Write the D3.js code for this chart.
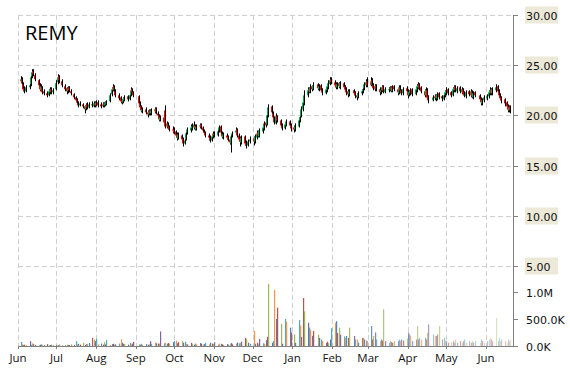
<!DOCTYPE html>
<html><head><meta charset="utf-8">
<script src="https://cdn.jsdelivr.net/npm/d3@7"></script>
<style>body{margin:0;background:#fff}svg{display:block}</style>
</head><body>
<svg id="c" width="570" height="370"></svg>
<script>
const title = "REMY";
const firstDay = "2013-06-03", lastDay = "2014-06-20";
const holidays = ["2013-07-04","2013-09-02","2013-11-28","2013-12-25","2014-01-01","2014-01-20","2014-02-17","2014-04-18","2014-05-26"];
const priceTicks = [5, 10, 15, 20, 25, 30];
const volumeTicks = [0, 500000, 1000000];
const volumeTickLabels = ["0.0K", "500.0K", "1.0M"];

const opens = [
 23.4,23.6,23.1,22.7,22.4,22.8,23.1,23.9,24.4,24.0,23.5,23.0,22.5,22.8,22.4,22.2,22.0,22.3,22.6,22.3,
 22.6,23.3,23.9,23.4,22.9,22.7,22.4,22.8,22.4,22.1,21.8,21.6,21.2,21.0,21.1,20.9,20.6,21.1,20.8,21.1,20.9,21.2,
 21.0,21.3,21.1,20.9,21.2,21.0,21.1,21.4,22.1,22.5,22.9,22.4,22.0,21.8,21.5,21.3,21.5,21.9,21.6,22.0,22.6,22.3,
 21.9,21.2,20.9,20.4,20.6,20.3,20.1,20.5,20.2,20.4,20.7,20.2,20.0,19.5,19.8,20.5,18.9,19.2,18.9,18.6,
 18.6,18.4,18.1,17.7,18.0,17.7,17.2,17.6,18.3,18.5,18.7,18.8,19.0,18.6,18.9,19.1,18.8,18.4,18.3,18.0,17.8,17.5,17.8,
 18.2,18.0,18.5,18.9,18.2,17.8,18.0,17.9,17.6,17.2,18.0,18.3,18.6,18.0,17.7,17.3,17.9,17.3,17.0,17.4,
 17.7,17.4,17.8,18.3,17.9,18.4,18.7,19.3,19.1,20.0,20.9,20.2,19.8,19.2,19.9,19.5,19.0,18.7,19.0,19.4,19.0,
 18.8,18.6,18.9,19.5,19.9,20.6,21.2,22.0,22.6,22.3,22.9,22.6,23.1,22.6,23.0,22.5,22.2,22.5,22.8,23.1,23.6,
 23.3,23.1,22.8,23.2,22.8,23.2,22.9,22.6,22.4,22.1,22.5,22.3,22.0,21.8,22.2,22.4,22.7,23.0,23.4,
 23.0,23.5,23.0,22.6,23.0,22.6,22.3,22.5,22.9,22.3,22.5,22.6,22.8,22.4,22.9,22.6,22.2,22.8,22.5,22.2,22.7,
 22.4,22.0,22.2,22.6,22.1,22.5,22.8,23.1,22.8,22.4,22.0,22.5,21.9,21.5,21.7,22.0,21.7,22.2,21.9,21.6,22.0,
 22.2,22.6,22.3,22.0,22.5,22.9,22.4,22.8,22.3,22.6,22.3,21.9,22.4,22.0,22.4,21.8,22.3,22.0,21.7,21.2,21.5,
 21.7,21.9,22.2,22.6,22.2,22.5,22.9,22.4,22.0,21.8,21.6,21.3,21.0,20.5,20.9
];
const highs = [
 23.9,23.8,23.3,22.9,23.0,23.3,24.0,24.6,24.6,24.2,23.6,23.2,23.1,22.9,22.6,22.4,22.6,22.8,22.8,22.7,
 23.5,24.1,24.0,23.6,23.1,22.8,22.9,22.9,22.6,22.2,21.9,21.7,21.4,21.4,21.2,21.0,21.2,21.3,21.3,21.4,21.4,21.4,
 21.5,21.5,21.3,21.3,21.3,21.4,21.5,22.2,22.8,23.1,23.0,22.6,22.2,21.9,21.6,21.8,22.0,22.0,22.3,22.8,22.7,22.4,
 22.0,21.4,21.0,20.8,20.8,20.5,20.6,20.6,20.7,20.8,20.8,20.4,20.1,20.0,19.9,21.0,19.4,19.3,19.0,18.9,
 18.8,18.5,18.3,18.3,18.1,17.8,17.7,18.4,18.8,19.1,19.2,19.4,19.1,19.1,19.2,19.2,18.9,18.6,18.4,18.2,18.0,18.1,18.4,
 18.4,18.6,19.0,19.0,18.4,18.3,18.2,18.0,17.8,18.1,18.4,18.8,18.7,18.2,17.9,18.0,18.0,17.5,17.6,17.9,
 17.9,18.1,18.5,18.5,18.7,19.0,19.4,19.4,20.3,21.1,21.0,20.4,19.9,20.2,20.0,19.6,19.2,19.3,19.6,19.5,19.2,
 19.0,19.2,19.8,20.1,20.9,21.6,22.5,22.8,22.8,23.1,23.0,23.3,23.2,23.1,23.1,22.7,22.8,23.1,23.5,23.8,23.8,
 23.5,23.3,23.3,23.3,23.4,23.3,23.0,22.8,22.6,22.6,22.6,22.4,22.2,22.4,22.6,22.8,23.3,23.6,23.8,
 23.8,23.7,23.2,23.1,23.1,22.8,22.7,23.0,23.0,22.8,22.8,22.9,22.9,23.0,23.0,22.7,23.0,23.0,22.6,22.8,22.9,
 22.6,22.5,22.7,22.7,22.8,23.1,23.3,23.2,22.9,22.6,22.8,22.7,22.0,22.0,22.1,22.1,22.3,22.3,22.0,22.2,22.5,
 22.8,22.7,22.4,22.8,23.0,23.0,22.9,22.9,22.8,22.7,22.4,22.5,22.5,22.6,22.5,22.4,22.4,22.1,21.8,21.7,22.0,
 22.1,22.5,22.8,22.7,22.8,23.1,23.0,22.6,22.2,21.9,21.7,21.4,21.1,21.0,21.0
];
const lows = [
 23.2,23.0,22.4,22.2,22.3,22.6,22.9,23.7,23.9,23.4,22.8,22.4,22.4,22.1,22.0,21.8,21.9,22.1,22.1,22.1,
 22.5,23.1,23.2,22.8,22.4,22.1,22.2,22.3,22.0,21.6,21.3,21.1,20.8,20.9,20.7,20.2,20.5,20.6,20.7,20.8,20.8,20.8,
 20.9,20.8,20.7,20.8,20.8,20.9,21.0,21.3,21.9,22.4,22.3,21.8,21.5,21.2,21.1,21.2,21.4,21.4,21.5,21.9,22.1,21.8,
 21.0,20.6,20.3,20.2,20.1,19.8,20.0,20.0,20.0,20.2,20.1,19.8,19.4,19.4,19.1,18.7,18.7,18.6,18.4,18.2,
 18.1,17.8,17.5,17.6,17.4,16.9,17.1,17.5,18.1,18.3,18.5,18.6,18.5,18.5,18.7,18.6,18.3,18.1,17.8,17.5,17.3,17.4,17.7,
 17.8,17.9,18.3,18.1,17.7,17.6,17.6,17.4,17.1,16.3,17.8,18.1,17.8,17.4,16.9,17.1,17.0,16.7,16.9,17.2,
 17.0,17.2,17.6,17.8,17.8,18.2,18.5,18.8,19.0,19.8,20.1,19.6,19.1,19.1,19.3,18.8,18.5,18.6,18.9,18.8,18.4,
 18.3,18.4,18.8,19.3,19.8,20.4,21.0,21.8,22.2,22.2,22.4,22.5,22.5,22.4,22.3,22.0,22.1,22.3,22.6,23.0,23.1,
 22.8,22.6,22.6,22.7,22.6,22.6,22.4,22.0,21.8,21.9,22.0,21.7,21.5,21.7,22.0,22.2,22.5,22.8,22.8,
 22.9,22.9,22.5,22.4,22.4,22.0,22.1,22.3,22.2,22.2,22.3,22.4,22.3,22.3,22.4,22.0,22.1,22.3,22.0,22.0,22.2,
 21.7,21.9,22.0,21.9,22.0,22.3,22.6,22.5,22.2,21.8,21.8,21.6,21.2,21.4,21.5,21.4,21.5,21.6,21.4,21.5,21.8,
 22.0,22.0,21.8,21.9,22.3,22.3,22.2,22.2,22.1,22.0,21.8,21.7,21.9,21.8,21.7,21.6,21.8,21.4,21.0,21.0,21.3,
 21.5,21.7,22.0,22.0,22.0,22.3,22.2,21.8,21.5,21.2,20.9,20.6,20.3,20.3,20.2
];
const closes = [
 23.6,23.2,22.6,22.4,22.8,23.0,23.8,24.3,24.1,23.6,23.0,22.6,22.9,22.3,22.2,22.0,22.4,22.6,22.3,22.5,
 23.2,23.8,23.5,23.0,22.6,22.4,22.7,22.5,22.2,21.8,21.5,21.3,21.0,21.2,20.9,20.6,21.0,20.8,21.1,21.0,21.2,21.0,
 21.3,21.0,20.9,21.1,21.0,21.2,21.3,22.0,22.6,22.8,22.5,22.0,21.7,21.4,21.3,21.6,21.8,21.6,22.0,22.5,22.3,22.0,
 21.2,20.8,20.5,20.6,20.3,20.1,20.4,20.2,20.5,20.6,20.3,20.0,19.6,19.8,19.3,18.9,19.2,18.8,18.6,18.5,
 18.3,18.0,17.8,18.1,17.6,17.2,17.5,18.2,18.6,18.8,18.9,19.1,18.7,18.9,19.0,18.8,18.5,18.3,18.0,17.8,17.5,17.9,18.2,
 18.0,18.4,18.8,18.3,17.9,18.1,17.8,17.6,17.3,17.9,18.2,18.5,18.0,17.6,17.4,17.8,17.2,17.0,17.4,17.6,
 17.4,17.9,18.2,18.0,18.5,18.8,19.2,19.0,20.0,20.8,20.3,19.8,19.3,19.9,19.5,19.0,18.7,19.1,19.4,19.0,18.7,
 18.6,18.9,19.5,19.8,20.6,21.3,22.0,22.5,22.4,22.8,22.6,23.0,22.7,22.9,22.5,22.3,22.6,22.9,23.2,23.5,23.3,
 23.0,22.8,23.1,22.9,23.2,22.8,22.6,22.3,22.1,22.4,22.2,22.0,21.8,22.2,22.4,22.6,23.1,23.3,23.0,
 23.4,23.0,22.7,22.9,22.6,22.3,22.5,22.8,22.4,22.6,22.6,22.7,22.5,22.8,22.6,22.3,22.8,22.5,22.2,22.6,22.4,
 22.0,22.3,22.5,22.1,22.6,22.9,23.0,22.7,22.4,22.0,22.6,21.8,21.5,21.8,21.9,21.7,22.1,21.8,21.7,22.0,22.3,
 22.5,22.2,22.0,22.6,22.8,22.5,22.7,22.4,22.6,22.2,22.0,22.3,22.1,22.4,21.9,22.2,22.0,21.6,21.3,21.5,21.8,
 21.9,22.3,22.5,22.2,22.6,22.8,22.4,22.0,21.7,21.5,21.2,20.9,20.6,20.8,20.5
];
// volume in thousands of shares
const volumesK = [
 75,30,20,25,15,90,20,50,35,20,15,25,30,20,15,35,15,20,25,15,
 20,15,30,10,18,25,20,15,30,22,90,30,40,25,60,20,35,40,55,150,120,90,
 135,30,45,25,70,30,110,20,35,40,25,30,45,125,60,35,40,25,60,30,45,75,
 30,25,40,20,35,25,30,90,40,65,50,45,40,270,50,60,45,55,40,70,
 90,100,50,70,90,60,80,40,30,60,35,25,45,30,55,40,25,35,60,30,60,45,35,
 70,25,45,40,30,20,35,25,40,55,30,45,65,50,60,80,150,125,60,40,
 280,40,60,30,130,50,40,110,170,1150,60,90,1040,500,710,410,40,500,450,340,250,
 215,60,480,380,170,890,640,430,340,300,190,280,210,150,120,90,60,80,50,120,330,
 430,460,240,340,210,180,150,185,150,340,185,120,120,60,150,150,120,100,90,
 370,120,185,250,120,90,120,100,680,90,60,90,75,60,90,90,120,90,120,100,140,
 250,215,185,90,120,370,120,150,120,150,120,245,400,215,185,185,215,370,120,150,100,
 90,60,70,90,60,120,60,90,60,90,120,60,90,60,90,60,90,60,120,90,60,
 90,120,150,120,90,520,90,150,90,120,90,60,120,90,120
];
const volumePalette = ["#4F81BD","#C0504D","#9BBB59","#8064A2","#4BACC6","#F79646"];

// ---- trading days ----
const parse = d3.timeParse("%Y-%m-%d"), fmt = d3.timeFormat("%Y-%m-%d");
const hol = new Set(holidays);
const days = [];
for (let d = parse(firstDay); d <= parse(lastDay); d = d3.timeDay.offset(d, 1)) {
  const wd = d.getDay();
  if (wd === 0 || wd === 6 || hol.has(fmt(d))) continue;
  days.push(d);
}
const n = Math.min(days.length, opens.length, highs.length, lows.length, closes.length, volumesK.length);
const data = d3.range(n).map(i => ({date: days[i], o: opens[i], h: highs[i], l: lows[i], c: closes[i], v: volumesK[i]*1000, i}));

const svg = d3.select("#c");
const L = 18, R = 513, T = 15, B = 346;
const x = d3.scaleTime().domain([new Date(2013,5,1), new Date(2014,5,22)]).range([L, R]);
const y = d3.scaleLinear().domain([5, 30]).range([266, T]);
const yv = d3.scaleLinear().domain([0, 1000000]).range([B, 292]);

const grid = svg.append("g").attr("stroke", "#d0d0d0").attr("stroke-dasharray", "5,3").attr("stroke-width", 1);
grid.selectAll("line.h").data(priceTicks).join("line")
  .attr("x1", L).attr("x2", R).attr("y1", d => Math.round(y(d)) + 0.5).attr("y2", d => Math.round(y(d)) + 0.5);
const months = x.ticks(d3.timeMonth.every(1));
grid.selectAll("line.v").data(months).join("line")
  .attr("y1", T).attr("y2", B).attr("x1", d => Math.round(x(d)) + 0.5).attr("x2", d => Math.round(x(d)) + 0.5);

// title
svg.append("text").attr("x", 25).attr("y", 40).attr("font-family", "Open Sans, sans-serif")
  .attr("font-size", 20).attr("fill", "#000").text(title);

// volume bars
const fadeStart = new Date(2014,1,1), fadeEnd = parse(lastDay);
svg.append("g").selectAll("rect").data(data).join("rect")
  .attr("x", d => Math.round(x(d.date)))
  .attr("width", 1.2)
  .attr("y", d => yv(d.v))
  .attr("height", d => B - yv(d.v))
  .attr("fill", d => volumePalette[(d.i + 4) % 6])
  .attr("fill-opacity", d => d.date < fadeStart ? 1 : 1 - 0.65 * (d.date - fadeStart) / (fadeEnd - fadeStart));

// candles
const cg = svg.append("g");
const cand = cg.selectAll("g").data(data).join("g");
cand.append("rect")
  .attr("x", d => Math.round(x(d.date)) - 1)
  .attr("width", 2)
  .attr("y", d => y(Math.max(d.o, d.c)))
  .attr("height", d => Math.max(1, Math.abs(y(d.o) - y(d.c))))
  .attr("fill", d => d.c >= d.o ? "#00b050" : "#ff0000");
cand.append("line")
  .attr("x1", d => Math.round(x(d.date)) + 0.5).attr("x2", d => Math.round(x(d.date)) + 0.5)
  .attr("y1", d => y(d.h)).attr("y2", d => y(d.l))
  .attr("stroke", "#000").attr("stroke-width", 1);

// bottom axis
const ax = svg.append("g").attr("stroke", "#808080");
ax.append("line").attr("x1", L).attr("x2", R).attr("y1", B + 0.5).attr("y2", B + 0.5);
ax.selectAll("line.t").data(months).join("line")
  .attr("x1", d => Math.round(x(d)) + 0.5).attr("x2", d => Math.round(x(d)) + 0.5)
  .attr("y1", B).attr("y2", B + 3);
svg.append("g").selectAll("text").data(months).join("text")
  .attr("x", d => x(d)).attr("y", 362).attr("text-anchor", "middle")
  .attr("font-family", "Open Sans, sans-serif").attr("font-size", 11.5).attr("fill", "#111")
  .text(d3.timeFormat("%b"));

// right axis
ax.append("line").attr("x1", R + 0.5).attr("x2", R + 0.5).attr("y1", T).attr("y2", B + 1);
const rt = svg.append("g");
priceTicks.forEach(p => {
  const yy = Math.round(y(p)) + 0.5;
  rt.append("line").attr("x1", R).attr("x2", R + 5).attr("y1", yy).attr("y2", yy).attr("stroke", "#808080");
  rt.append("rect").attr("x", 525).attr("y", yy - 9).attr("width", 33).attr("height", 17).attr("fill", "#ECE9D8");
  rt.append("text").attr("x", 526).attr("y", yy + 4).attr("font-family", "DejaVu Sans, sans-serif")
    .attr("font-size", 11).attr("fill", "#111").text(d3.format(".2f")(p));
});
volumeTicks.forEach((v, k) => {
  const yy = Math.round(yv(v)) + 0.5;
  rt.append("line").attr("x1", R).attr("x2", R + 5).attr("y1", yy).attr("y2", yy).attr("stroke", "#808080");
  rt.append("text").attr("x", 526).attr("y", yy + 4).attr("font-family", "DejaVu Sans, sans-serif")
    .attr("font-size", 11).attr("fill", "#111").text(volumeTickLabels[k]);
});
</script>
</body></html>
